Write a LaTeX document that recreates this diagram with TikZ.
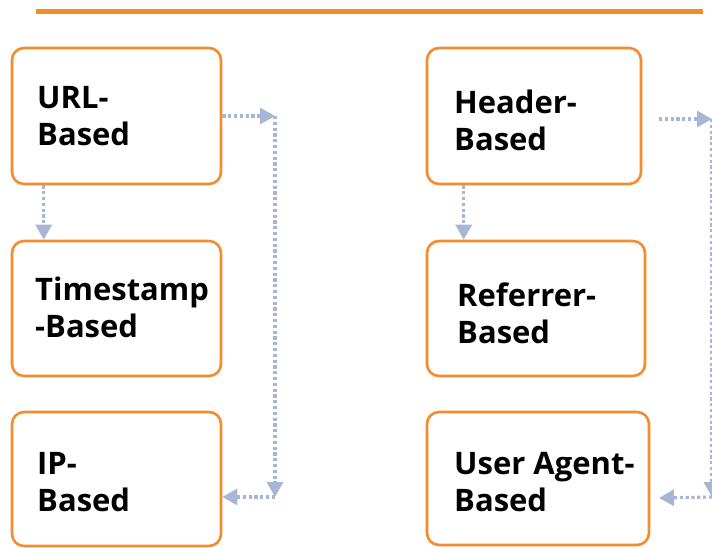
\documentclass[tikz,border=0pt]{standalone}
\usepackage{fontspec}
\setmainfont{Open Sans}
\usetikzlibrary{arrows.meta}
\definecolor{boxorange}{HTML}{F58B2B}
\definecolor{linkblue}{HTML}{A8B6D6}
\begin{document}
\begin{tikzpicture}[x=1pt,y=-1pt,
  box/.style={draw=boxorange, line width=2.6pt, rounded corners=12pt, inner sep=0pt},
  lbl/.style={anchor=base west, align=left, inner sep=0pt,
    font=\bfseries\fontsize{31}{37}\selectfont},
  link/.style={draw=linkblue, line width=3.2pt, dash pattern=on 3.2pt off 2.6pt,
    -{Triangle[length=15pt,width=16pt]}}]
\useasboundingbox (0,0) rectangle (712,547);
% top bar
\fill[boxorange] (36,8.5) rectangle (703,14);
% boxes
\node[box, minimum width=209pt, minimum height=136pt] (url) at (116.5,116) {};
\node[box, minimum width=209pt, minimum height=135pt] (ts)  at (116.5,308.5) {};
\node[box, minimum width=209pt, minimum height=134pt] (ip)  at (116.5,479) {};
\node[box, minimum width=214pt, minimum height=136pt] (hdr) at (534,116) {};
\node[box, minimum width=218pt, minimum height=135pt] (ref) at (536,308.5) {};
\node[box, minimum width=222pt, minimum height=133pt] (ua)  at (538,478.5) {};
% labels (base anchor = baseline of the last line)
\node[lbl] (urlt) at (37,145) {URL-\\Based};
\node[lbl] (tst)  at (35,337) {Timestamp\\-Based};
\node[lbl] (ipt)  at (37,511) {IP-\\Based};
\node[lbl] (hdrt) at (454,150) {Header-\\Based};
\node[lbl] (reft) at (457,343) {Referrer-\\Based};
\node[lbl] (uat)  at (454,511) {User Agent-\\Based};
% connectors, left
\draw[link] ([xshift=33pt]url.south west) -- ([xshift=33pt]ts.north west);
\coordinate (l1) at (275,116);
\coordinate (l2) at (275,497);
\draw[link] (url.east) -- (l1);
\draw[link] (l1) -- (l2);
\draw[link] (l2) -- (ip.east |- l2);
% connectors, right
\draw[link] ([xshift=38pt]hdr.south west) -- ([xshift=38pt]ref.north west);
\coordinate (r0) at (659,119);
\coordinate (r1) at (712,119);
\coordinate (r2) at (712,497);
\coordinate (r3) at (659,498);
\draw[link] (r0) -- (r1);
\draw[link] (r1) -- (r2);
\draw[link] (r2) -- (r3);
\end{tikzpicture}
\end{document}
